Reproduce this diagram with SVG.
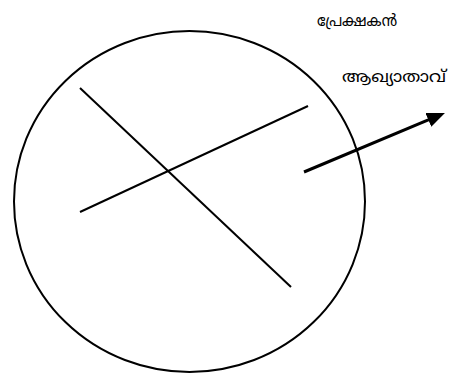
<svg xmlns="http://www.w3.org/2000/svg" width="451" height="374" viewBox="0 0 451 374">
<defs>
<style>
.shape{fill:none;stroke:#000;stroke-width:2}
.lbl{font-family:"Noto Sans Malayalam","Noto Sans","DejaVu Sans",sans-serif;font-size:16px;fill:#000}
</style>
<marker id="ah" markerWidth="6" markerHeight="5" refX="4.5" refY="2.5" orient="auto" markerUnits="strokeWidth">
<path d="M0,0 L6,2.5 L0,5 z" fill="#000"/>
</marker>
</defs>
<rect width="451" height="374" fill="#fff"/>
<g id="circle"><ellipse class="shape" cx="189.5" cy="201.5" rx="175.5" ry="170.5"/></g>
<g id="connectors">
<line class="shape" x1="80" y1="88" x2="291" y2="287"/>
<line class="shape" x1="80" y1="212" x2="308" y2="106"/>
<line x1="304" y1="172" x2="440.8" y2="114.7" stroke="#000" stroke-width="3" marker-end="url(#ah)"/>
</g>
<g id="label-viewer"><text class="lbl" x="317" y="26" textLength="80" lengthAdjust="spacingAndGlyphs">പ്രേക്ഷകൻ</text></g>
<g id="label-narrator"><text class="lbl" x="342" y="82" textLength="104" lengthAdjust="spacingAndGlyphs">ആഖ്യാതാവ്</text></g>
</svg>
